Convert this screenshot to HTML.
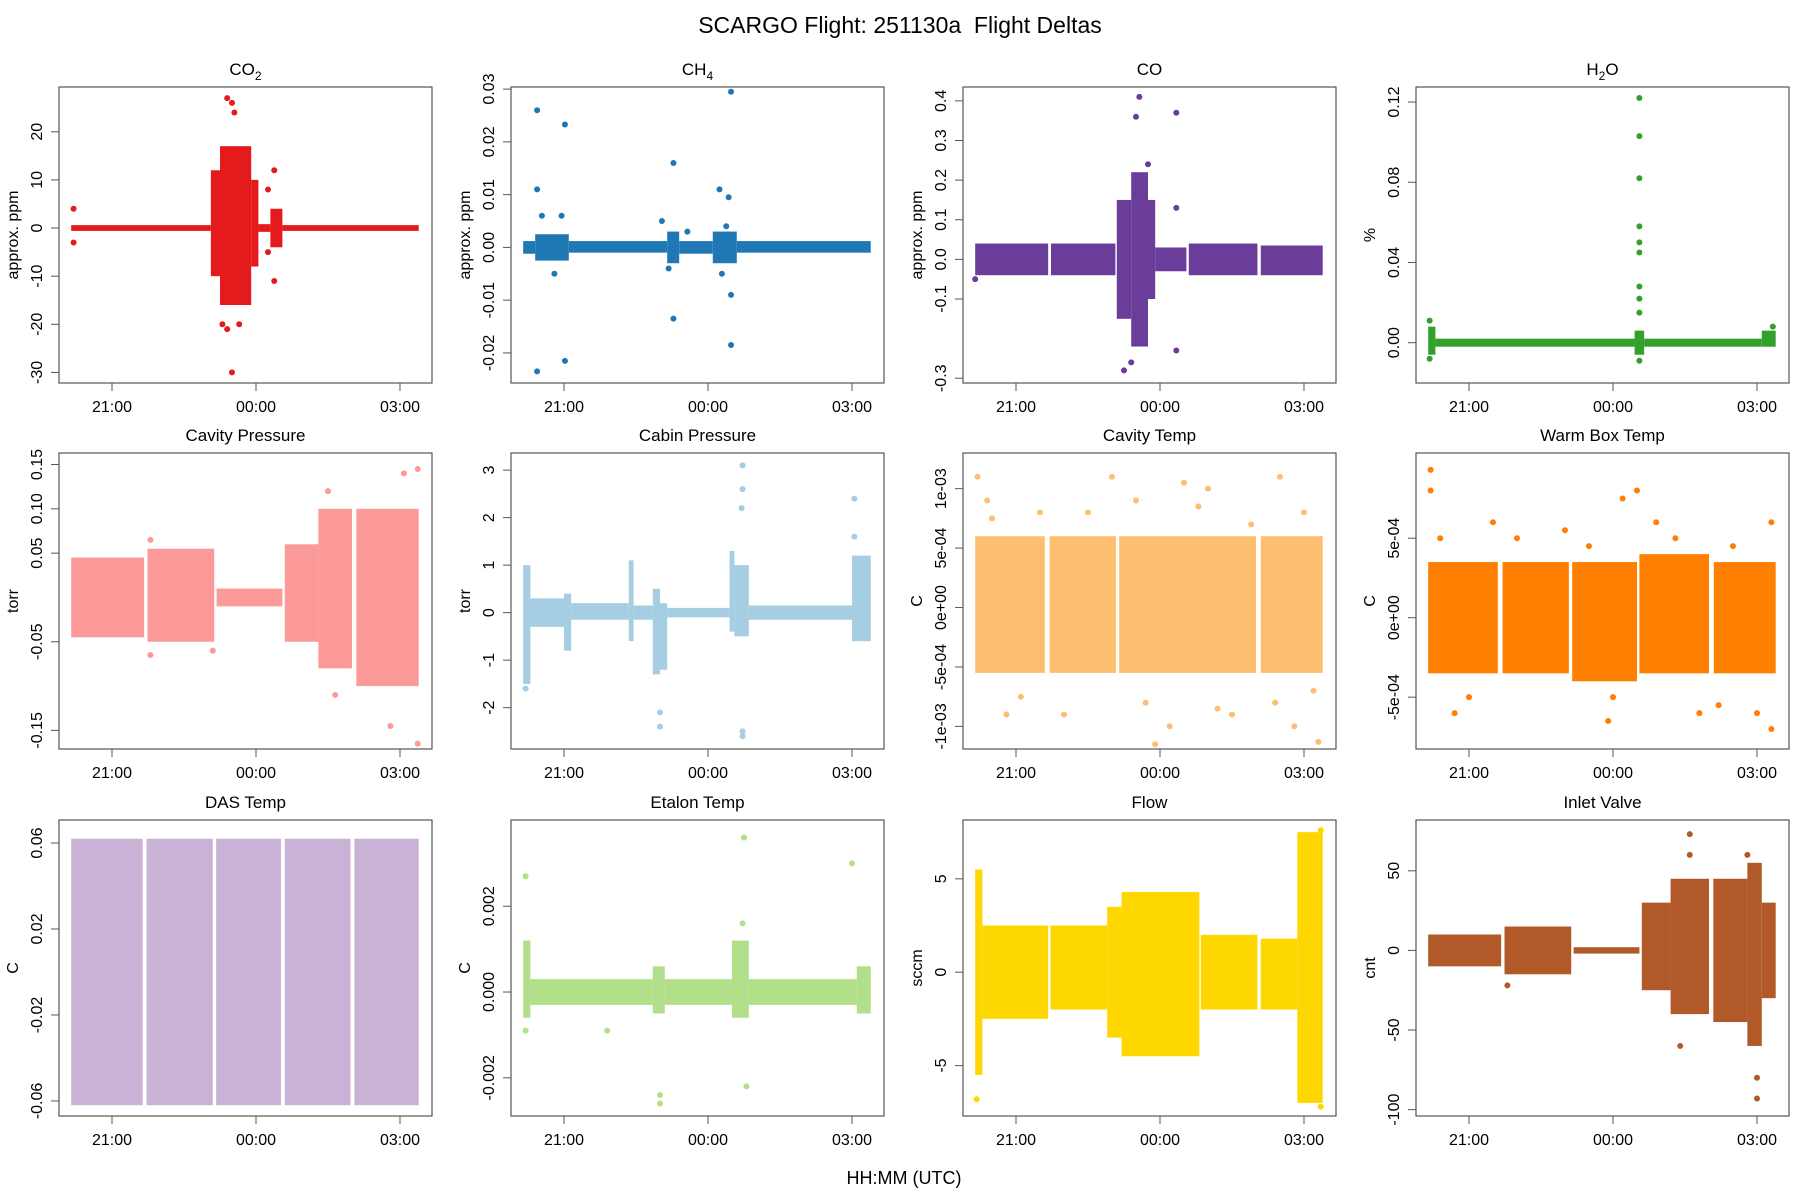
<!DOCTYPE html>
<html><head><meta charset="utf-8"><style>
html,body{margin:0;padding:0;background:#fff;}
svg{display:block;font-family:"Liberation Sans",Arial,sans-serif;}
</style></head><body>
<svg id="chart" width="1800" height="1200" viewBox="0 0 1800 1200">
<text x="900" y="33" font-size="23" text-anchor="middle">SCARGO Flight: 251130a&#160; Flight Deltas</text>
<text x="904" y="1184" font-size="18" text-anchor="middle">HH:MM (UTC)</text>
</svg>
<script>
// x ticks (hours relative to 00:00 UTC)
const xTickVals = [-3, 0, 3];
const xTickLabels = ["21:00", "00:00", "03:00"];

// ---- CO2 ----
const co2T0 = [-3.85,-0.94,-0.75,-0.1,0.05,0.3,0.55];
const co2T1 = [-0.94,-0.75,-0.1,0.05,0.3,0.55,3.39];
const co2Lo = [-0.6,-10,-16,-8,-0.8,-4,-0.6];
const co2Hi = [0.6,12,17,10,0.8,4,0.6];
const co2OutT = [-0.6,-0.5,-0.45,-0.5,-0.6,-0.7,-0.35,0.25,0.38,-3.8,-3.8,0.38,0.25,-0.65,-0.2];
const co2OutV = [27,26,24,-30,-21,-20,-20,-5,-11,4,-3,12,8,16,15];
// ---- CH4 ----
const ch4T0 = [-3.85,-3.6,-2.9,-0.85,-0.6,0.1,0.6];
const ch4T1 = [-3.6,-2.9,-0.85,-0.6,0.1,0.6,3.39];
const ch4Lo = [-0.0012,-0.0025,-0.001,-0.003,-0.0012,-0.003,-0.001];
const ch4Hi = [0.0012,0.0025,0.0012,0.003,0.0012,0.003,0.0012];
const ch4OutT = [-3.56,-2.98,-3.56,-3.56,-2.98,-0.72,-0.72,0.48,0.48,0.24,0.43,0.48,-3.46,-3.05,-3.2,-0.96,-0.43,-0.82,0.29,0.38];
const ch4OutV = [0.026,0.0233,0.011,-0.0235,-0.0215,0.016,-0.0135,0.0295,-0.0185,0.011,0.0095,-0.009,0.006,0.006,-0.005,0.005,0.003,-0.004,-0.005,0.004];
// ---- CO ----
const coT0 = [-3.85,-2.27,-0.9,-0.6,-0.25,-0.1,0.6,2.1];
const coT1 = [-2.33,-0.93,-0.6,-0.25,-0.1,0.55,2.03,3.39];
const coLo = [-0.04,-0.04,-0.15,-0.22,-0.1,-0.03,-0.04,-0.04];
const coHi = [0.04,0.04,0.15,0.22,0.15,0.03,0.04,0.035];
const coOutT = [-0.43,0.34,-0.5,-0.75,0.34,0.34,-0.25,-0.6,-3.85];
const coOutV = [0.41,0.37,0.36,-0.28,-0.23,0.13,0.24,-0.26,-0.05];
// ---- H2O ----
const h2oT0 = [-3.85,-3.7,0.45,0.65,3.1];
const h2oT1 = [-3.7,0.45,0.65,3.1,3.39];
const h2oLo = [-0.006,-0.002,-0.006,-0.002,-0.002];
const h2oHi = [0.008,0.002,0.006,0.002,0.006];
const h2oOutT = [0.55,0.55,0.55,0.55,0.55,0.55,0.55,0.55,0.55,0.55,-3.82,-3.82,3.33];
const h2oOutV = [0.122,0.103,0.082,0.058,0.05,0.045,0.028,0.022,0.015,-0.009,0.011,-0.008,0.008];
// ---- Cavity Pressure ----
const cpT0 = [-3.85,-2.26,-0.82,0.6,1.3,2.09];
const cpT1 = [-2.33,-0.87,0.55,1.3,2.0,3.39];
const cpLo = [-0.045,-0.05,-0.01,-0.05,-0.08,-0.1];
const cpHi = [0.045,0.055,0.01,0.06,0.1,0.1];
const cpOutT = [1.5,3.08,3.37,2.8,3.37,1.65,-2.2,-2.2,-0.9];
const cpOutV = [0.12,0.14,0.145,-0.145,-0.165,-0.11,0.065,-0.065,-0.06];
// ---- Cabin Pressure ----
const cbT0 = [-3.85,-3.7,-3.0,-2.85,-1.65,-1.55,-1.15,-1.0,-0.85,0.45,0.55,0.85,3.0];
const cbT1 = [-3.7,-3.0,-2.85,-1.65,-1.55,-1.15,-1.0,-0.85,0.45,0.55,0.85,3.0,3.39];
const cbLo = [-1.5,-0.3,-0.8,-0.15,-0.6,-0.15,-1.3,-1.2,-0.1,-0.4,-0.5,-0.15,-0.6];
const cbHi = [1.0,0.3,0.4,0.2,1.1,0.15,0.5,0.2,0.1,1.3,1.0,0.15,1.2];
const cbOutT = [0.72,0.72,0.7,0.72,0.72,-1.0,-1.0,3.05,3.05,-3.8];
const cbOutV = [3.1,2.6,2.2,-2.6,-2.5,-2.1,-2.4,2.4,1.6,-1.6];
// ---- Cavity Temp ----
const ctT0 = [-3.85,-2.3,-0.85,2.1];
const ctT1 = [-2.4,-0.92,2.0,3.39];
const ctLo = [-0.00055,-0.00055,-0.00055,-0.00055];
const ctHi = [0.0006,0.0006,0.0006,0.0006];
const ctOutT = [-3.8,-3.6,-2.5,-1.0,-0.1,0.5,1.0,2.5,3.0,3.3,-3.2,-2.0,0.2,1.5,2.8,-0.5,-3.5,-1.5,0.8,1.9,2.4,-2.9,-0.3,1.2,3.2];
const ctOutV = [0.0011,0.0009,0.0008,0.0011,-0.00115,0.00105,0.001,0.0011,0.0008,-0.00113,-0.0009,-0.0009,-0.001,-0.0009,-0.001,0.0009,0.00075,0.0008,0.00085,0.0007,-0.0008,-0.00075,-0.0008,-0.00085,-0.0007];
// ---- Warm Box Temp ----
const wbT0 = [-3.85,-2.3,-0.85,0.55,2.1];
const wbT1 = [-2.4,-0.92,0.5,2.0,3.39];
const wbLo = [-0.00035,-0.00035,-0.0004,-0.00035,-0.00035];
const wbHi = [0.00035,0.00035,0.00035,0.0004,0.00035];
const wbOutT = [-3.8,-3.8,0.5,0.2,-3.3,-0.1,1.8,3.3,3.3,3.0,-2.5,-1.0,0.9,-3.6,-2.0,-0.5,1.3,2.5,-3.0,0.0,2.2];
const wbOutV = [0.00093,0.0008,0.0008,0.00075,-0.0006,-0.00065,-0.0006,-0.0007,0.0006,-0.0006,0.0006,0.00055,0.0006,0.0005,0.0005,0.00045,0.0005,0.00045,-0.0005,-0.0005,-0.00055];
// ---- DAS Temp ----
const daT0 = [-3.85,-2.28,-0.83,0.6,2.05];
const daT1 = [-2.36,-0.9,0.52,1.97,3.39];
const daLo = [-0.062,-0.062,-0.062,-0.062,-0.062];
const daHi = [0.062,0.062,0.062,0.062,0.062];
const daOutT = [];
const daOutV = [];
// ---- Etalon Temp ----
const etT0 = [-3.85,-3.7,-1.15,-0.9,0.5,0.85,3.1];
const etT1 = [-3.7,-1.15,-0.9,0.5,0.85,3.1,3.39];
const etLo = [-0.0006,-0.0003,-0.0005,-0.0003,-0.0006,-0.0003,-0.0005];
const etHi = [0.0012,0.0003,0.0006,0.0003,0.0012,0.0003,0.0006];
const etOutT = [-3.8,-1.0,-1.0,0.75,0.8,0.72,3.0,-2.1,-3.8];
const etOutV = [0.0027,-0.0024,-0.0026,0.0036,-0.0022,0.0016,0.003,-0.0009,-0.0009];
// ---- Flow ----
const flT0 = [-3.85,-3.7,-2.28,-1.1,-0.8,0.85,2.1,2.86];
const flT1 = [-3.7,-2.33,-1.1,-0.8,0.82,2.03,2.86,3.39];
const flLo = [-5.5,-2.5,-2,-3.5,-4.5,-2,-2,-7];
const flHi = [5.5,2.5,2.5,3.5,4.3,2,1.8,7.5];
const flOutT = [-3.82,3.35,3.35];
const flOutV = [-6.8,7.6,-7.2];
// ---- Inlet Valve ----
const ivT0 = [-3.85,-2.26,-0.82,0.6,1.2,2.09,2.8,3.1];
const ivT1 = [-2.33,-0.87,0.55,1.2,2.0,2.8,3.1,3.39];
const ivLo = [-10,-15,-2,-25,-40,-45,-60,-30];
const ivHi = [10,15,2,30,45,45,55,30];
const ivOutT = [1.6,1.6,1.4,3.0,3.0,2.8,-2.2];
const ivOutV = [73,60,-60,-93,-80,60,-22];

const panels = [
 {name:"co2",title:"CO",sub:"2",ylab:"approx. ppm",col:"#E41A1C",ymin:-32.2,ymax:29.3,ticks:[-30,-20,-10,0,10,20],tl:["-30","-20","-10","0","10","20"],T0:co2T0,T1:co2T1,Lo:co2Lo,Hi:co2Hi,OT:co2OutT,OV:co2OutV},
 {name:"ch4",title:"CH",sub:"4",ylab:"approx. ppm",col:"#1F78B4",ymin:-0.0257,ymax:0.0304,ticks:[-0.02,-0.01,0,0.01,0.02,0.03],tl:["-0.02","-0.01","0.00","0.01","0.02","0.03"],T0:ch4T0,T1:ch4T1,Lo:ch4Lo,Hi:ch4Hi,OT:ch4OutT,OV:ch4OutV},
 {name:"co",title:"CO",sub:"",ylab:"approx. ppm",col:"#6A3D9A",ymin:-0.312,ymax:0.435,ticks:[-0.3,-0.1,0,0.1,0.2,0.3,0.4],tl:["-0.3","-0.1","0.0","0.1","0.2","0.3","0.4"],T0:coT0,T1:coT1,Lo:coLo,Hi:coHi,OT:coOutT,OV:coOutV},
 {name:"h2o",title:"H",sub:"2",post:"O",ylab:"%",col:"#33A02C",ymin:-0.0201,ymax:0.1275,ticks:[0,0.04,0.08,0.12],tl:["0.00","0.04","0.08","0.12"],T0:h2oT0,T1:h2oT1,Lo:h2oLo,Hi:h2oHi,OT:h2oOutT,OV:h2oOutV},
 {name:"cavity-pressure",title:"Cavity Pressure",ylab:"torr",col:"#FB9A99",ymin:-0.171,ymax:0.163,ticks:[-0.15,-0.05,0.05,0.1,0.15],tl:["-0.15","-0.05","0.05","0.10","0.15"],T0:cpT0,T1:cpT1,Lo:cpLo,Hi:cpHi,OT:cpOutT,OV:cpOutV},
 {name:"cabin-pressure",title:"Cabin Pressure",ylab:"torr",col:"#A6CEE3",ymin:-2.87,ymax:3.36,ticks:[-2,-1,0,1,2,3],tl:["-2","-1","0","1","2","3"],T0:cbT0,T1:cbT1,Lo:cbLo,Hi:cbHi,OT:cbOutT,OV:cbOutV},
 {name:"cavity-temp",title:"Cavity Temp",ylab:"C",col:"#FDBF6F",ymin:-0.00119,ymax:0.0013,ticks:[-0.001,-0.0005,0,0.0005,0.001],tl:["-1e-03","-5e-04","0e+00","5e-04","1e-03"],T0:ctT0,T1:ctT1,Lo:ctLo,Hi:ctHi,OT:ctOutT,OV:ctOutV},
 {name:"warm-box-temp",title:"Warm Box Temp",ylab:"C",col:"#FF7F00",ymin:-0.000826,ymax:0.001036,ticks:[-0.0005,0,0.0005],tl:["-5e-04","0e+00","5e-04"],T0:wbT0,T1:wbT1,Lo:wbLo,Hi:wbHi,OT:wbOutT,OV:wbOutV},
 {name:"das-temp",title:"DAS Temp",ylab:"C",col:"#CAB2D6",ymin:-0.067,ymax:0.0707,ticks:[-0.06,-0.02,0.02,0.06],tl:["-0.06","-0.02","0.02","0.06"],T0:daT0,T1:daT1,Lo:daLo,Hi:daHi,OT:daOutT,OV:daOutV},
 {name:"etalon-temp",title:"Etalon Temp",ylab:"C",col:"#B2DF8A",ymin:-0.00289,ymax:0.00401,ticks:[-0.002,0,0.002],tl:["-0.002","0.000","0.002"],T0:etT0,T1:etT1,Lo:etLo,Hi:etHi,OT:etOutT,OV:etOutV},
 {name:"flow",title:"Flow",ylab:"sccm",col:"#FFD700",ymin:-7.7,ymax:8.15,ticks:[-5,0,5],tl:["-5","0","5"],T0:flT0,T1:flT1,Lo:flLo,Hi:flHi,OT:flOutT,OV:flOutV},
 {name:"inlet-valve",title:"Inlet Valve",ylab:"cnt",col:"#B15928",ymin:-104,ymax:81.9,ticks:[-100,-50,0,50],tl:["-100","-50","0","50"],T0:ivT0,T1:ivT1,Lo:ivLo,Hi:ivHi,OT:ivOutT,OV:ivOutV}
];

const NS = "http://www.w3.org/2000/svg";
const svg = document.getElementById("chart");
function mk(tag, attrs, parent){ const e=document.createElementNS(NS,tag); for(const k in attrs) e.setAttribute(k,attrs[k]); parent.appendChild(e); return e; }
const colX = [59,511,963,1416], rowY = [87,453,820];
const W = 373, H = 296, XMIN = -4.104, XMAX = 3.667;

panels.forEach((p,i)=>{
  const L = colX[i%4], T = rowY[Math.floor(i/4)];
  const g = mk("g",{},svg);
  
  
  const xs = v => L + (v - XMIN)/(XMAX - XMIN)*W;
  const ys = v => T + H - (v - p.ymin)/(p.ymax - p.ymin)*H;
  for(let k=0;k<p.T0.length;k++){
    const r = mk("rect",{x:xs(p.T0[k]),y:ys(p.Hi[k]),width:xs(p.T1[k])-xs(p.T0[k]),height:ys(p.Lo[k])-ys(p.Hi[k]),fill:p.col},g);
    
    
  }
  for(let k=0;k<p.OT.length;k++){
    const c = mk("circle",{cx:xs(p.OT[k]),cy:ys(p.OV[k]),r:3,fill:p.col},g);
    
    
  }
  const box = mk("rect",{x:L,y:T,width:W,height:H,fill:"none",stroke:"#555","stroke-width":1.2},g);
  
  
  const t = mk("text",{x:L+W/2,y:T-12,"font-size":17,"text-anchor":"middle"},g);
  
  
  t.appendChild(document.createTextNode(p.title));
  if(p.sub){ const s=mk("tspan",{"font-size":12,dy:5},t); s.textContent=p.sub; }
  if(p.post){ const s2=mk("tspan",{dy:-5},t); s2.textContent=p.post; }
  xTickVals.forEach((v,j)=>{
    const x = xs(v);
    mk("line",{x1:x,x2:x,y1:T+H,y2:T+H+8,stroke:"#555"},g);
    const tx = mk("text",{x:x,y:T+H+29,"font-size":16,"text-anchor":"middle"},g);
    
    
    tx.textContent = xTickLabels[j];
  });
  p.ticks.forEach((v,j)=>{
    const y = ys(v);
    mk("line",{x1:L,x2:L-8,y1:y,y2:y,stroke:"#555"},g);
    const ty = mk("text",{x:0,y:0,"font-size":16,"text-anchor":"middle",transform:`translate(${L-17},${y}) rotate(-90)`},g);
    
    
    ty.textContent = p.tl[j];
  });
  const yl = mk("text",{x:0,y:0,"font-size":16,"text-anchor":"middle",transform:`translate(${L-41},${T+H/2}) rotate(-90)`},g);
  
  
  yl.textContent = p.ylab;
});
</script>
</body></html>
